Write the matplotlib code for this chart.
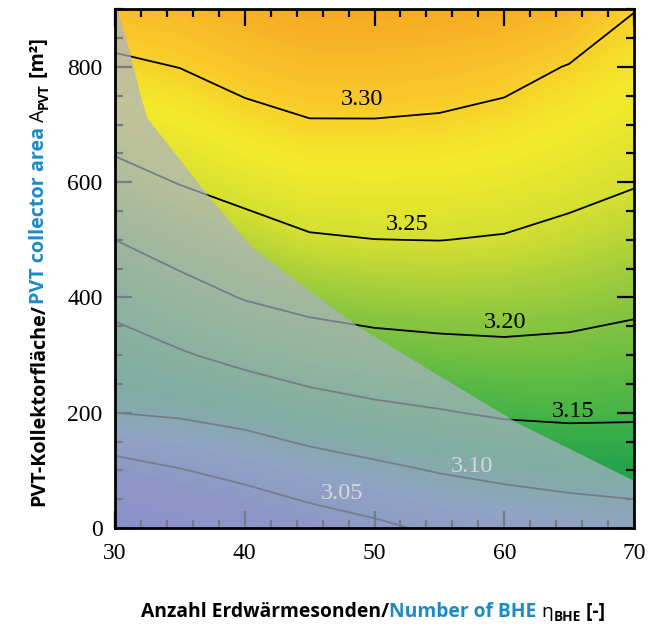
"""SPF contour map over BHE count and PVT collector area."""

import matplotlib

matplotlib.use("Agg")
import matplotlib.pyplot as plt
import numpy as np
from matplotlib.colors import LinearSegmentedColormap
from matplotlib.patches import Polygon
from matplotlib.ticker import MultipleLocator
from matplotlib.transforms import IdentityTransform

# grid columns: number of borehole heat exchangers
n_bhe = [30, 35, 40, 45, 50, 55, 60, 65, 70]
# grid rows: PVT collector area in m²
a_pvt = [0, 100, 200, 300, 400, 500, 600, 700, 800, 900]
# seasonal performance factor, one row per collector area
spf = [
    [2.9700, 2.9900, 3.0100, 3.0280, 3.0417, 3.0572, 3.0655, 3.0737, 3.0806],
    [3.0330, 3.0480, 3.0630, 3.0788, 3.0907, 3.1023, 3.1109, 3.1168, 3.1194],
    [3.1000, 3.1057, 3.1155, 3.1299, 3.1401, 3.1473, 3.1550, 3.1574, 3.1559],
    [3.1310, 3.1460, 3.1620, 3.1750, 3.1833, 3.1876, 3.1907, 3.1894, 3.1842],
    [3.1635, 3.1840, 3.2020, 3.2131, 3.2186, 3.2207, 3.2203, 3.2162, 3.2096],
    [3.2000, 3.2190, 3.2346, 3.2466, 3.2497, 3.2504, 3.2478, 3.2403, 3.2313],
    [3.2360, 3.2515, 3.2630, 3.2724, 3.2736, 3.2728, 3.2686, 3.2612, 3.2523],
    [3.2670, 3.2760, 3.2884, 3.2973, 3.2974, 3.2951, 3.2889, 3.2797, 3.2684],
    [3.2935, 3.3005, 3.3135, 3.3223, 3.3223, 3.3195, 3.3125, 3.2983, 3.2846],
    [3.3200, 3.3255, 3.3385, 3.3473, 3.3473, 3.3445, 3.3403, 3.3303, 3.3010],
]

# isolines and where their labels sit
levels = [3.05, 3.10, 3.15, 3.20, 3.25, 3.30]
label_bhe = [47.5, 57.5, 65.3, 60.1, 52.5, 49.0]
label_area = [60, 106, 203, 356, 526, 743]

# edge of the excluded (not feasible) region
limit_bhe = [30.2, 31.2, 31.9, 32.5, 34.1, 37.3, 40.6, 44.5, 48.9, 55.0, 61.2, 70.0]
limit_area = [900, 821, 757, 711, 665, 573, 486, 420, 347, 264, 180, 82]

x_lim = (30, 70)
y_lim = (0, 900)

BLUE = "#1b8bc6"
SERIF = "Liberation Serif"
SANS = "Open Sans"

z_lo, z_hi = 2.96, 3.36
cmap_nodes = [
    (2.960, "#3c3cd6"),
    (3.030, "#4a58c8"),
    (3.080, "#5084b8"),
    (3.115, "#22a050"),
    (3.150, "#3eb146"),
    (3.210, "#8dc63f"),
    (3.250, "#d4df31"),
    (3.280, "#f3ea2b"),
    (3.310, "#f9c62a"),
    (3.360, "#f4a01f"),
]
spf_cmap = LinearSegmentedColormap.from_list(
    "spf", [((z - z_lo) / (z_hi - z_lo), c) for z, c in cmap_nodes]
)


def draw_pieces(fig, pieces, center, rotation=0):
    """Lay out differently styled text runs one after another, centred."""
    renderer = fig.canvas.get_renderer()
    texts = []
    for text, color, weight, size, shift in pieces:
        t = fig.text(0, 0, text, color=color, fontweight=weight, fontsize=size,
                     family=SANS, rotation=rotation, rotation_mode="anchor",
                     ha="left", va="baseline", transform=IdentityTransform())
        bb = t.get_window_extent(renderer)
        texts.append((t, shift, bb.height if rotation else bb.width))
    pos = -sum(length for _, _, length in texts) / 2
    cx, cy = center
    for t, shift, length in texts:
        if rotation:
            t.set_position((cx + shift, cy + pos))
        else:
            t.set_position((cx + pos, cy - shift))
        pos += length


fig = plt.figure(figsize=(6.49, 6.28), dpi=100)
ax = fig.add_axes([0.1772, 0.1592, 0.7997, 0.8260])

X, Y = np.meshgrid(n_bhe, a_pvt)
Z = np.array(spf)
ax.contourf(X, Y, Z, levels=np.linspace(z_lo, z_hi, 161), cmap=spf_cmap,
            vmin=z_lo, vmax=z_hi, zorder=1)
ax.contour(X, Y, Z, levels=levels, colors="black", linewidths=1.3, zorder=2)

boundary = list(zip(limit_bhe, limit_area))
boundary += [(x_lim[1], y_lim[0]), (x_lim[0], y_lim[0]), (x_lim[0], y_lim[1])]
excluded = Polygon(boundary, closed=True, facecolor="#abb2c7", alpha=0.70,
                   edgecolor="none", zorder=2.2)
ax.add_patch(excluded)

for level, bx, by in zip(levels, label_bhe, label_area):
    inside = excluded.get_path().contains_point((bx, by))
    ax.text(bx, by, f"{level:.2f}", ha="center", va="center", fontsize=17.5,
            family=SERIF, color="#d6d8dc" if inside else "black", zorder=3)

ax.set_xlim(*x_lim)
ax.set_ylim(*y_lim)
ax.xaxis.set_major_locator(MultipleLocator(10))
ax.xaxis.set_minor_locator(MultipleLocator(2))
ax.yaxis.set_major_locator(MultipleLocator(200))
ax.yaxis.set_minor_locator(MultipleLocator(50))
ax.tick_params(which="both", direction="in", top=True, right=True, width=1.6,
               labelsize=17, color="black")
ax.tick_params(which="major", length=12)
ax.tick_params(which="minor", length=6)
ax.tick_params(axis="x", pad=11)
ax.tick_params(axis="y", pad=9)
for lbl in ax.get_xticklabels() + ax.get_yticklabels():
    lbl.set_fontfamily(SERIF)
for spine in ax.spines.values():
    spine.set_linewidth(2.0)

draw_pieces(fig, [
    ("Anzahl Erdwärmesonden/", "black", "bold", 13.9, 0),
    ("Number of BHE", BLUE, "bold", 13.9, 0),
    (" η", "black", "normal", 13.9, 0),
    ("BHE", "black", "bold", 9.8, 4),
    (" [-]", "black", "bold", 13.9, 0),
], center=(373, 11))

draw_pieces(fig, [
    ("PVT-Kollektorfläche/", "black", "bold", 14.2, 0),
    ("PVT collector area", BLUE, "bold", 14.2, 0),
    (" A", "black", "normal", 14.2, 0),
    ("PVT", "black", "bold", 10, 4),
    (" [m²]", "black", "bold", 14.2, 0),
], center=(44, 272 + 84), rotation=90)

fig.savefig("out.png", dpi=100)
plt.close(fig)
